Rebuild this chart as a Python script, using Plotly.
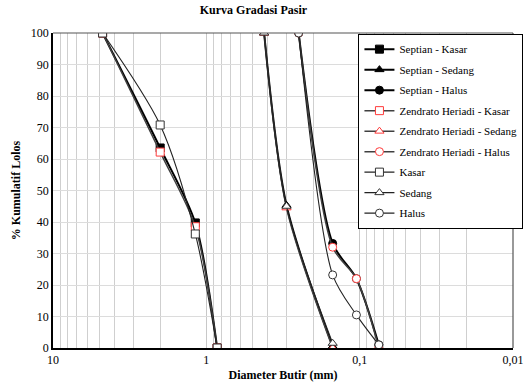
import plotly.graph_objects as go

# Sieve openings (mm) and cumulative passing (%) for each sand gradation
diam_kasar = [4.75, 2.0, 1.18, 0.85]
diam_sedang = [0.42, 0.3, 0.15]
diam_halus = [0.25, 0.15, 0.105, 0.075]

septian_kasar = [100, 63.5, 39.7, 0]
septian_sedang = [100, 45.3, 0.5]
septian_halus = [100, 33.2, 22.0, 1.0]

zendrato_kasar = [100, 62.2, 38.5, 0]
zendrato_sedang = [100, 44.5, 0]
zendrato_halus = [100, 32.0, 22.0, 0]

uji_kasar = [100, 70.8, 36.2, 0]
uji_sedang = [100, 45.0, 1.5]
uji_halus = [100, 23.2, 10.5, 1.0]

x_tickvals = [10, 1, 0.1, 0.01]
x_ticktext = ["10", "1", "0,1", "0,01"]
y_tickvals = list(range(0, 101, 10))

FONT = "Times New Roman"

fig = go.Figure()

def add(name, x, y, symbol, mcolor, fill, lcolor, lwidth):
    fig.add_trace(go.Scatter(
        x=x, y=y, name=name, mode="lines+markers", legendgroup=name,
        line=dict(color=lcolor, width=lwidth, shape="spline", smoothing=0.8),
        marker=dict(symbol=symbol, size=8, color=fill,
                    line=dict(color=mcolor, width=1)),
    ))

add("Septian - Kasar", diam_kasar, septian_kasar, "square", "black", "black", "black", 2.0)
add("Septian - Sedang", diam_sedang, septian_sedang, "triangle-up", "black", "black", "black", 2.0)
add("Septian - Halus", diam_halus, septian_halus, "circle", "black", "black", "black", 2.0)
add("Zendrato Heriadi - Kasar", diam_kasar, zendrato_kasar, "square", "#ff3b3b", "white", "#404040", 1.5)
add("Zendrato Heriadi - Sedang", diam_sedang, zendrato_sedang, "triangle-up", "#ff3b3b", "white", "#404040", 1.5)
add("Zendrato Heriadi - Halus", diam_halus, zendrato_halus, "circle", "#ff3b3b", "white", "#404040", 1.5)
add("Kasar", diam_kasar, uji_kasar, "square", "#333333", "white", "#222222", 1.1)
add("Sedang", diam_sedang, uji_sedang, "triangle-up", "#333333", "white", "#222222", 1.1)
add("Halus", diam_halus, uji_halus, "circle", "#333333", "white", "#222222", 1.1)

minor_vals = [m * 10 ** e for e in (-2, -1, 0) for m in range(2, 10)]

fig.update_layout(
    width=528, height=388,
    margin=dict(l=53, r=15, t=33, b=40, autoexpand=False),
    paper_bgcolor="white", plot_bgcolor="white",
    font=dict(family=FONT, size=12, color="black"),
    title=dict(text="<b>Kurva Gradasi Pasir</b>", x=0.48, xanchor="center",
               y=0.985, yanchor="top", font=dict(size=12, family=FONT)),
    xaxis=dict(
        type="log", range=[1, -2], automargin=False,
        tickvals=x_tickvals, ticktext=x_ticktext,
        showgrid=True, gridcolor="#c8c8c8", gridwidth=1,
        minor=dict(tickvals=minor_vals, showgrid=True, gridcolor="#cfcfcf",
                   gridwidth=1, ticks=""),
        showline=True, linecolor="black", linewidth=2,
        zeroline=False, ticks="",
        tickfont=dict(family=FONT, size=12),
        title=dict(text="<b>Diameter Butir (mm)</b>", font=dict(size=12, family=FONT), standoff=4),
    ),
    yaxis=dict(
        range=[0, 100], tickvals=y_tickvals, automargin=False,
        showgrid=True, gridcolor="#dcdcdc", gridwidth=1,
        showline=True, linecolor="black", linewidth=1.5,
        zeroline=False, ticks="",
        tickfont=dict(family=FONT, size=12),
        title=dict(text="<b>% Kumulatif Lolos</b>", font=dict(size=12, family=FONT), standoff=8),
    ),
    legend=dict(
        x=0.664, y=0.998, xanchor="left", yanchor="top",
        bgcolor="white", bordercolor="black", borderwidth=1,
        font=dict(size=11, family=FONT),
        itemwidth=30, tracegroupgap=1.5,
    ),
    shapes=[
        dict(type="line", xref="paper", yref="paper", x0=0, x1=1, y0=1, y1=1,
             line=dict(color="#555555", width=1.2)),
        dict(type="line", xref="paper", yref="paper", x0=1, x1=1, y0=0, y1=1,
             line=dict(color="#555555", width=1.2)),
    ],
)

fig.write_html("out.html")
